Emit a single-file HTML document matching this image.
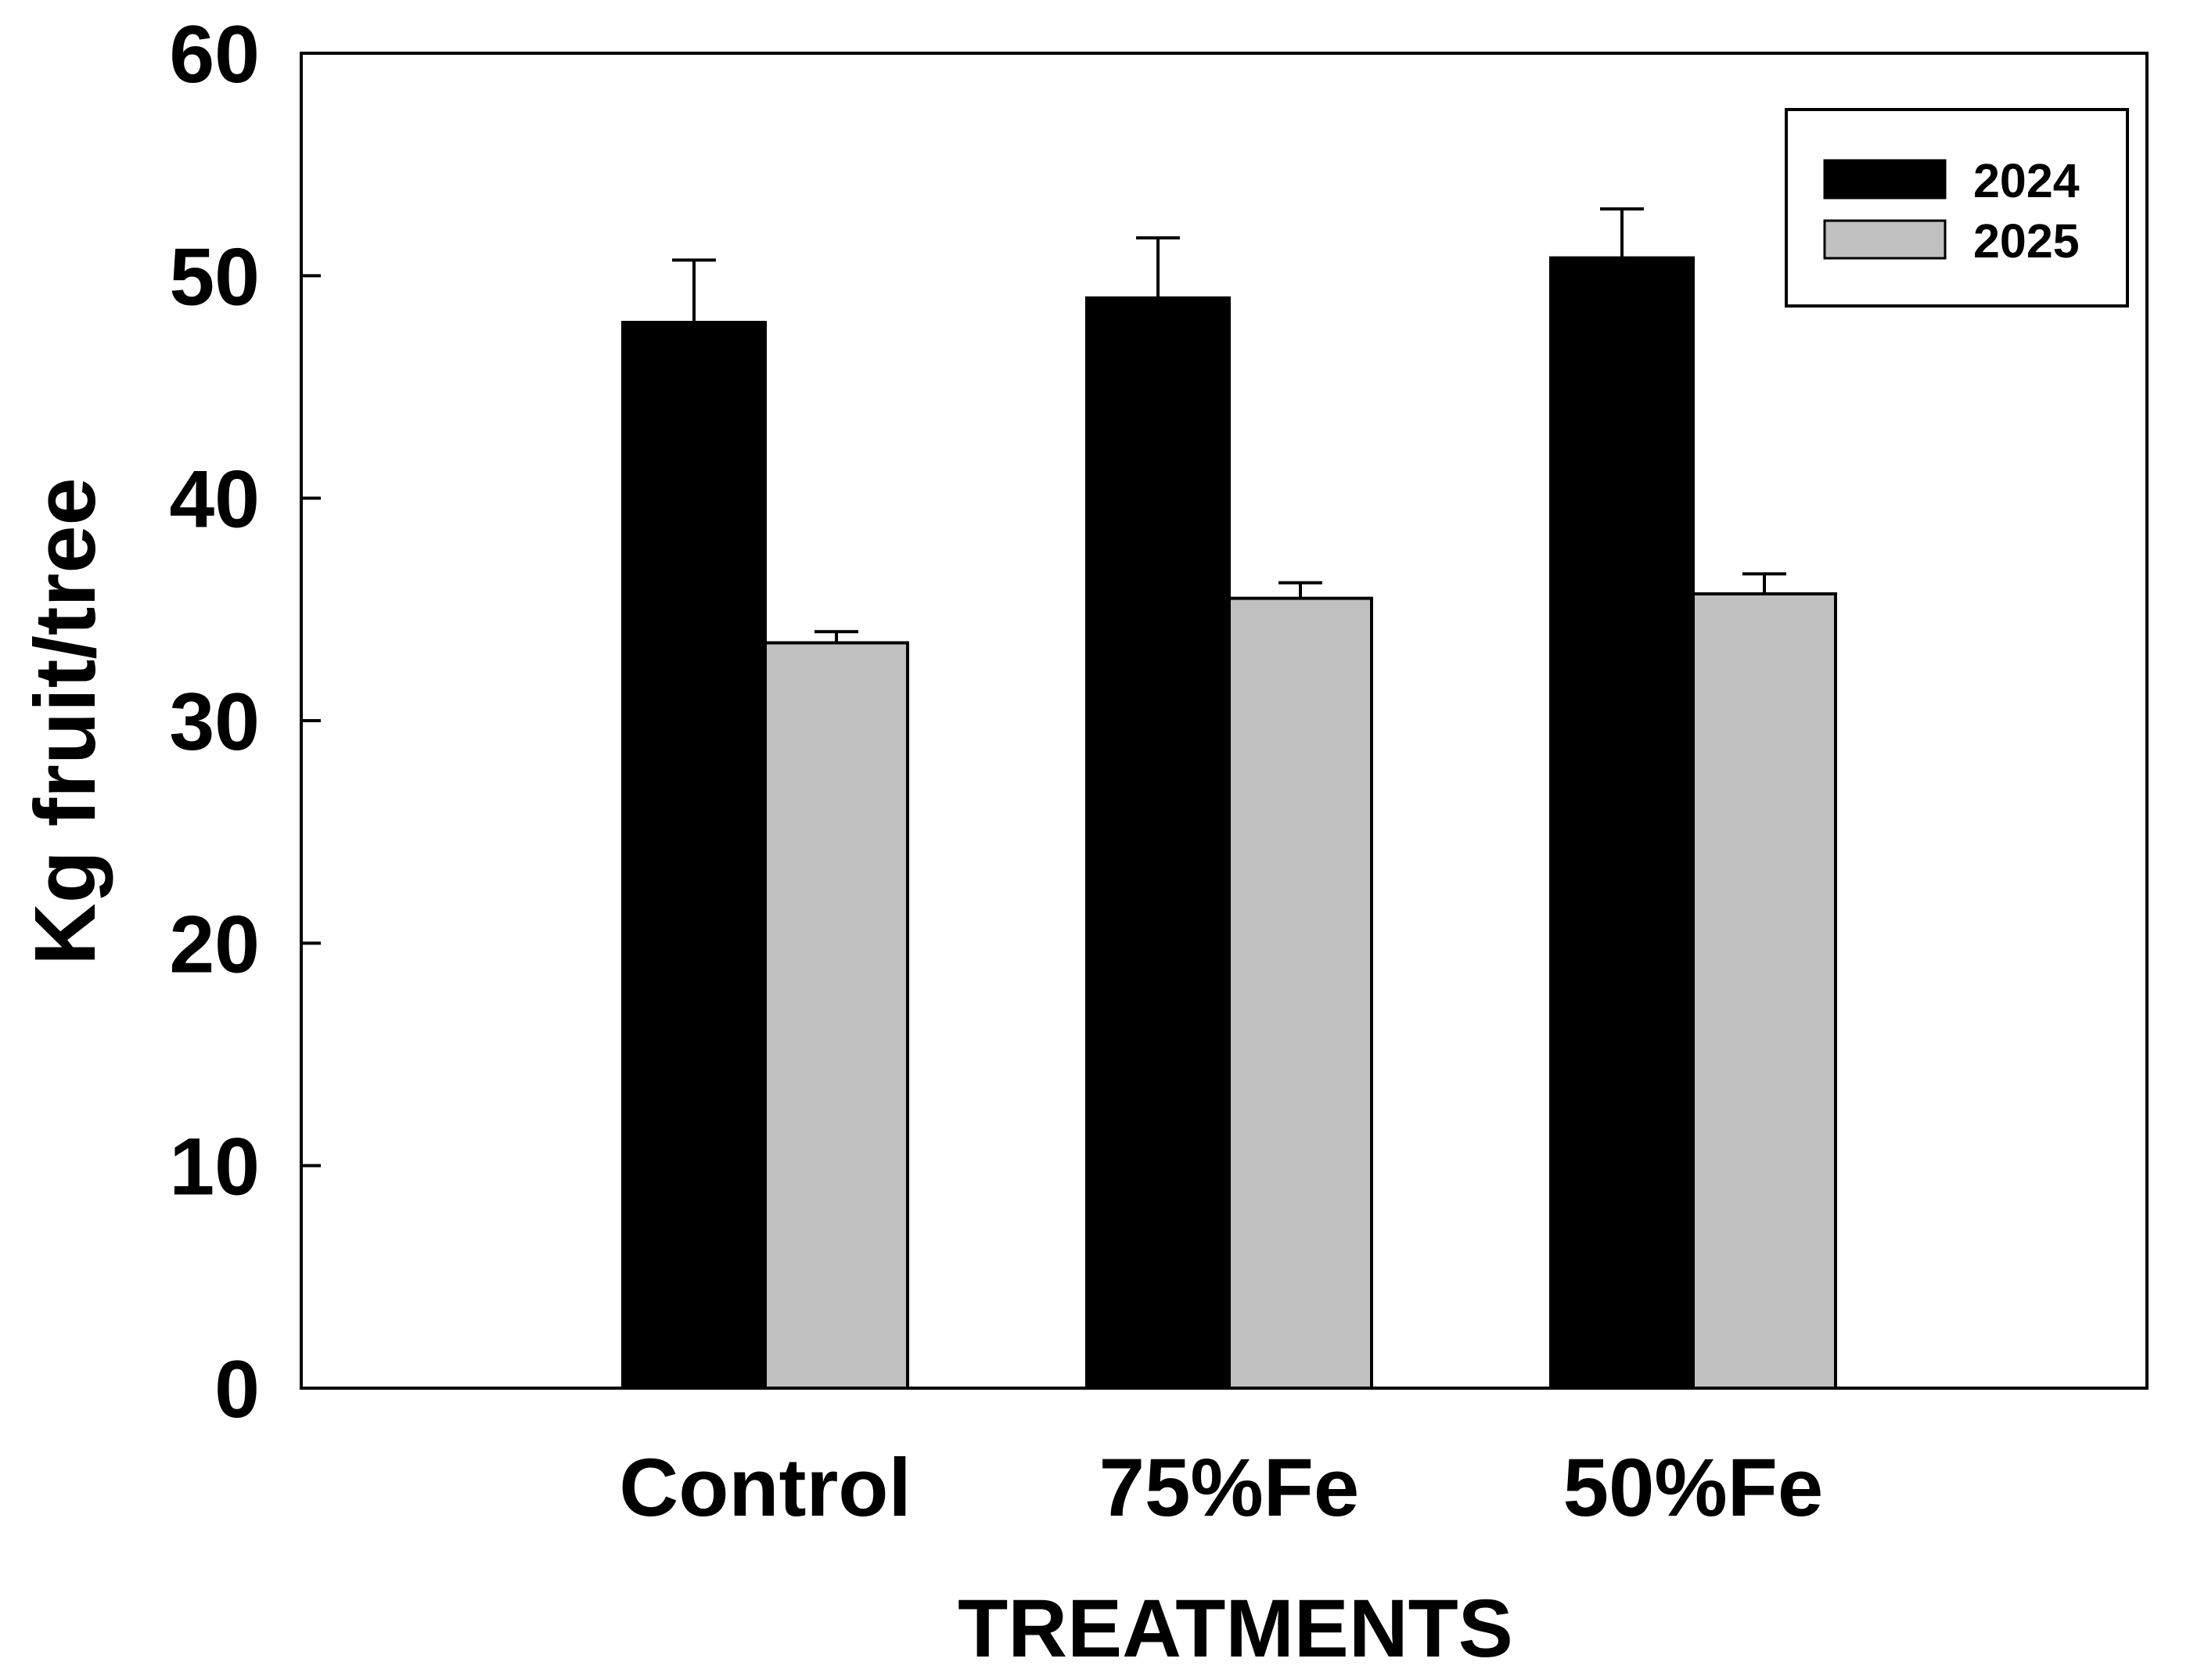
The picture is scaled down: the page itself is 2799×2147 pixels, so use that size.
<!DOCTYPE html>
<html><head><meta charset="utf-8"><style>
html,body{margin:0;padding:0;background:#fff;}
svg text{font-family:"Liberation Sans",Arial,sans-serif;font-weight:bold;fill:#000;}
</style></head><body>
<svg id="chart" width="2799" height="2142" viewBox="0 0 2799 2142" xmlns="http://www.w3.org/2000/svg">
<g id="plot"></g>
</svg>
<script>
const categories = ["Control", "75%Fe", "50%Fe"];
const values2024 = [47.9, 49.0, 50.8];
const err2024 = [2.8, 2.7, 2.2];
const values2025 = [33.5, 35.5, 35.7];
const err2025 = [0.5, 0.7, 0.9];
const yTicks = [0, 10, 20, 30, 40, 50, 60];

const L = 385, R = 2744, T = 68, B = 1774;
const ymax = 60;
const y = v => B - (v / ymax) * (B - T);
const slot = 593;
const xc = i => L + slot * (i + 1);
const bw = 182;
const NS = "http://www.w3.org/2000/svg";
const g = document.getElementById('plot');
function mk(tag, attrs, parent) {
  const e = document.createElementNS(NS, tag);
  for (const k in attrs) e.setAttribute(k, attrs[k]);
  (parent || g).appendChild(e);
  return e;
}
function errBar(cx, top, e, name) {
  const ge = mk('g', {});
  
  
  mk('line', {x1: cx, x2: cx, y1: y(top), y2: y(top + e), stroke: '#000', 'stroke-width': 4}, ge);
  mk('line', {x1: cx - 28, x2: cx + 28, y1: y(top + e), y2: y(top + e), stroke: '#000', 'stroke-width': 4}, ge);
}
categories.forEach((c, i) => {
  const x0 = xc(i) - bw;
  const b1 = mk('rect', {x: x0, y: y(values2024[i]), width: bw, height: B - y(values2024[i]), fill: '#000', stroke: '#000', 'stroke-width': 4});
  
  
  const b2 = mk('rect', {x: xc(i), y: y(values2025[i]), width: bw, height: B - y(values2025[i]), fill: '#c0c0c0', stroke: '#000', 'stroke-width': 4});
  
  
  errBar(x0 + bw / 2, values2024[i], err2024[i], 'error-bar-2024-' + i);
  errBar(xc(i) + bw / 2, values2025[i], err2025[i], 'error-bar-2025-' + i);
  const t = mk('text', {x: xc(i), y: 1937, 'font-size': 105, 'text-anchor': 'middle'});
  t.textContent = c;
  
  
});
const fr = mk('rect', {x: L, y: T, width: R - L, height: B - T, fill: 'none', stroke: '#000', 'stroke-width': 4});


yTicks.forEach(v => {
  const tk = mk('line', {x1: L, x2: L + 25, y1: y(v), y2: y(v), stroke: '#000', 'stroke-width': 4});
  
  
  const t = mk('text', {x: 332, y: y(v) + 37, 'font-size': 104, 'text-anchor': 'end'});
  t.textContent = v;
  
  
});
const xt = mk('text', {x: 1579, y: 2117, 'font-size': 105, 'text-anchor': 'middle'});
xt.textContent = 'TREATMENTS';


const yt = mk('text', {x: 0, y: 0, 'font-size': 110, 'text-anchor': 'middle', transform: 'translate(121,922) rotate(-90)'});
yt.textContent = 'Kg fruit/tree';


const lg = mk('g', {});


mk('rect', {x: 2283, y: 140, width: 436, height: 251, fill: '#fff', stroke: '#000', 'stroke-width': 4}, lg);
const sw1 = mk('rect', {x: 2332, y: 205, width: 154, height: 48, fill: '#000', stroke: '#000', 'stroke-width': 3}, lg);


const sw2 = mk('rect', {x: 2332, y: 282, width: 154, height: 48, fill: '#c0c0c0', stroke: '#000', 'stroke-width': 3}, lg);


const l1 = mk('text', {x: 2522, y: 252, 'font-size': 61}, lg);
l1.textContent = '2024';


const l2 = mk('text', {x: 2522, y: 329, 'font-size': 61}, lg);
l2.textContent = '2025';


</script>
</body></html>
